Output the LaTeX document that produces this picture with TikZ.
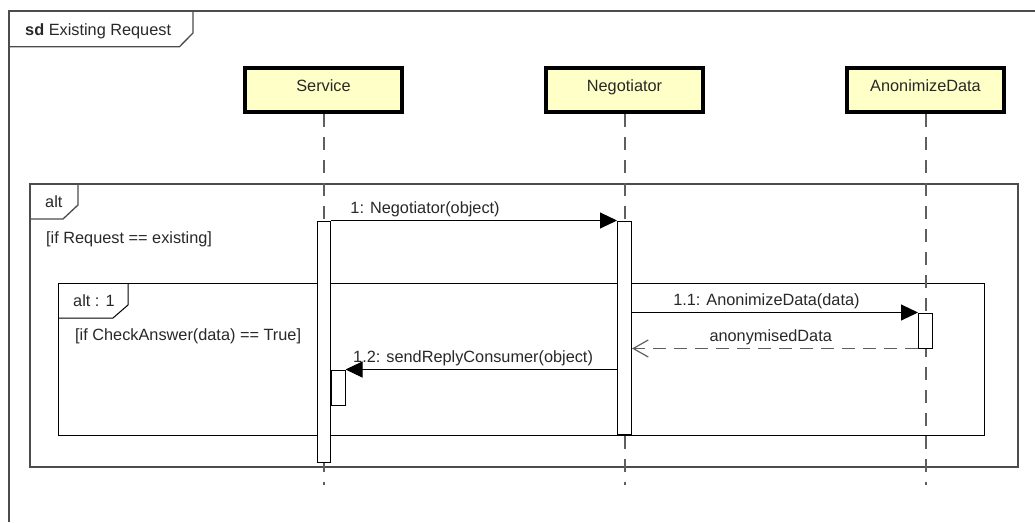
\documentclass[tikz,border=0pt]{standalone}
\usepackage{fontspec}
\setmainfont{Liberation Sans}
\usepackage{tikz}
\usetikzlibrary{arrows, arrows.meta, positioning}
\definecolor{headyellow}{RGB}{255,255,200}
\definecolor{linegray}{RGB}{95,95,95}
\definecolor{textgray}{RGB}{40,40,40}
\tikzstyle{lifehead} = [rectangle, minimum width=157pt, minimum height=44pt, text height=12pt, text depth=10pt, draw=black, line width=3.5pt, fill=headyellow, text=textgray, font=\fontsize{16.3}{19}\selectfont]
\tikzstyle{activation} = [rectangle, minimum width=14pt, inner sep=0pt, draw=black, line width=1pt, fill=white]
\tikzstyle{lifeline} = [line width=2pt, draw=linegray, dash pattern=on 13pt off 10pt]
\tikzstyle{frame} = [line width=1.3pt, draw=black!70]
\tikzstyle{label} = [anchor=base west, inner sep=0pt, text=textgray, font=\fontsize{16.3}{19}\selectfont]
\tikzstyle{msg} = [anchor=base, inner sep=0pt, yshift=7pt, text=textgray, font=\fontsize{16.3}{19}\selectfont]
\tikzstyle{arrow} = [line width=1pt, -{Triangle[length=17pt, width=16pt]}]
\tikzstyle{reply} = [line width=1.2pt, draw=linegray, dash pattern=on 13pt off 8pt, -{Straight Barb[length=15pt, width=17pt]}]

\begin{document}
\begin{tikzpicture}[x=1pt, y=-1pt, node distance=301pt]
\useasboundingbox (0,0) rectangle (1035,522);

% frames
\draw [frame] (9,522) -- (9,11) -- (1035,11);
\draw [frame] (9,46.7) -- (179.5,46.7) -- (193,33) -- (193,11);
\node (sdlabel) [label] at (25,35.5) {\textbf{sd} Existing Request};

\draw [frame] (30,184) rectangle (1018,467);
\draw [frame] (30,219) -- (63,219) -- (78,205) -- (78,184);
\node (altlabel) [label] at (45,207.5) {alt};
\node (altguard) [label] at (46,243) {[if Request == existing]};

\draw [frame, draw=black, line width=1pt] (58,283) rectangle (984,435);
\draw [frame, draw=black, line width=1pt] (58,318) -- (113,318) -- (128,305) -- (128,283);
\node (alt1label) [label] at (73,306.5) {alt : 1};
\node (alt1guard) [label] at (75,340) {[if CheckAnswer(data) == True]};

% lifelines
\node (service) [lifehead] at (323.5,90) {Service};
\node (negotiator) [lifehead, right of=service] {Negotiator};
\node (anonymize) [lifehead, right of=negotiator] {AnonimizeData};
\foreach \n in {service, negotiator, anonymize}
  \draw [lifeline] (\n.south) -- ++(0,371);

% activations
\node (actS) [activation, minimum width=13pt, minimum height=241pt] at (323.5,341.5) {};
\node (actN) [activation, minimum height=213pt] at (624.5,327.5) {};
\node (actA) [activation, minimum height=35pt] at (925.5,330.5) {};
\node (actS2) [activation, minimum height=35pt] at (338,387.5) {};

% messages
\draw [arrow] (actS.north east) -- node[msg, pos=0.33] {1: Negotiator(object)} (actN.north west);
\draw [arrow] (actN.east |- actA.north) -- node[msg, pos=0.47] {1.1: AnonimizeData(data)} (actA.north west);
\draw [reply] (actA.south west) -- node[msg, pos=0.515] {anonymisedData} (actN.east |- actA.south);
\draw [arrow] (actN.west |- actS2.north) -- node[msg, pos=0.53] {1.2: sendReplyConsumer(object)} (actS2.north east);

\end{tikzpicture}
\end{document}
